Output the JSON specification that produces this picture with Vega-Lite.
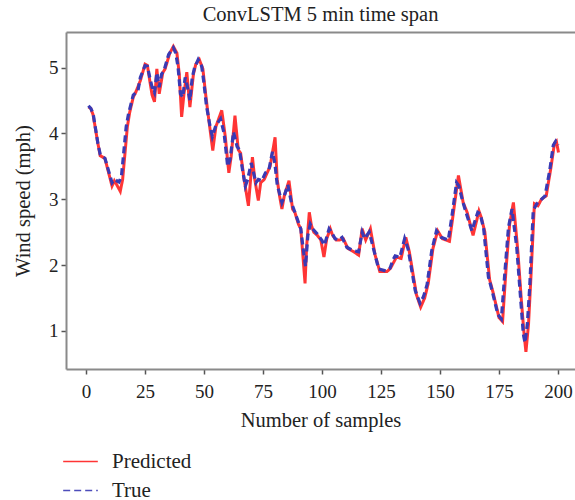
{
  "$schema": "https://vega.github.io/schema/vega-lite/v6.json",
  "width": 509,
  "height": 337,
  "autosize": {"type": "none"},
  "padding": {"left": 66, "top": 32, "right": 0, "bottom": 131},
  "background": "white",
  "config": {
    "font": "Liberation Serif",
    "view": {"stroke": null},
    "axis": {"grid": false, "domainColor": "#8a8a8a", "domainWidth": 2, "tickColor": "#555", "tickWidth": 1.5, "tickSize": 5, "labelFont": "Liberation Serif", "titleFont": "Liberation Serif", "labelFontSize": 19, "titleFontSize": 20.5, "labelColor": "#222", "titleColor": "#222", "titleFontWeight": "normal"},
    "legend": {"labelFont": "Liberation Serif", "labelFontSize": 21, "labelColor": "#222"}
  },
  "title": {"text": "ConvLSTM 5 min time span", "fontSize": 20.5, "fontWeight": "normal", "font": "Liberation Serif", "color": "#222", "anchor": "middle", "offset": 7},
  "datasets": {
    "pts": [
      {"series": "Predicted", "x": 1, "y": 4.40}, {"series": "Predicted", "x": 2, "y": 4.38}, {"series": "Predicted", "x": 3, "y": 4.28}, {"series": "Predicted", "x": 5, "y": 3.85}, {"series": "Predicted", "x": 6, "y": 3.66}, {"series": "Predicted", "x": 8, "y": 3.62}, {"series": "Predicted", "x": 9, "y": 3.48}, {"series": "Predicted", "x": 11, "y": 3.20}, {"series": "Predicted", "x": 12, "y": 3.28}, {"series": "Predicted", "x": 13, "y": 3.22}, {"series": "Predicted", "x": 14.5, "y": 3.12}, {"series": "Predicted", "x": 15.5, "y": 3.30}, {"series": "Predicted", "x": 17.5, "y": 4.10}, {"series": "Predicted", "x": 18.5, "y": 4.32}, {"series": "Predicted", "x": 20, "y": 4.55}, {"series": "Predicted", "x": 21, "y": 4.62}, {"series": "Predicted", "x": 23, "y": 4.80}, {"series": "Predicted", "x": 25, "y": 5.05}, {"series": "Predicted", "x": 26, "y": 5.03}, {"series": "Predicted", "x": 27, "y": 4.80}, {"series": "Predicted", "x": 28, "y": 4.58}, {"series": "Predicted", "x": 29, "y": 4.48}, {"series": "Predicted", "x": 30, "y": 4.98}, {"series": "Predicted", "x": 31, "y": 4.60}, {"series": "Predicted", "x": 32.5, "y": 4.92}, {"series": "Predicted", "x": 33.5, "y": 4.98}, {"series": "Predicted", "x": 35.5, "y": 5.22}, {"series": "Predicted", "x": 37, "y": 5.32}, {"series": "Predicted", "x": 38.5, "y": 5.22}, {"series": "Predicted", "x": 39.5, "y": 4.90}, {"series": "Predicted", "x": 40.5, "y": 4.25}, {"series": "Predicted", "x": 41.5, "y": 4.60}, {"series": "Predicted", "x": 42.7, "y": 4.93}, {"series": "Predicted", "x": 44, "y": 4.40}, {"series": "Predicted", "x": 45.5, "y": 4.90}, {"series": "Predicted", "x": 46.5, "y": 5.05}, {"series": "Predicted", "x": 48, "y": 5.12}, {"series": "Predicted", "x": 49.5, "y": 4.98}, {"series": "Predicted", "x": 50.5, "y": 4.65}, {"series": "Predicted", "x": 51.5, "y": 4.35}, {"series": "Predicted", "x": 53.7, "y": 3.74}, {"series": "Predicted", "x": 55, "y": 4.10}, {"series": "Predicted", "x": 57.5, "y": 4.35}, {"series": "Predicted", "x": 59, "y": 3.95}, {"series": "Predicted", "x": 60.5, "y": 3.40}, {"series": "Predicted", "x": 61.5, "y": 3.65}, {"series": "Predicted", "x": 63.1, "y": 4.27}, {"series": "Predicted", "x": 64.5, "y": 3.75}, {"series": "Predicted", "x": 65.5, "y": 3.70}, {"series": "Predicted", "x": 67, "y": 3.30}, {"series": "Predicted", "x": 68.8, "y": 2.90}, {"series": "Predicted", "x": 70.5, "y": 3.64}, {"series": "Predicted", "x": 71.5, "y": 3.30}, {"series": "Predicted", "x": 73, "y": 2.98}, {"series": "Predicted", "x": 74, "y": 3.25}, {"series": "Predicted", "x": 75.5, "y": 3.30}, {"series": "Predicted", "x": 77, "y": 3.42}, {"series": "Predicted", "x": 78, "y": 3.50}, {"series": "Predicted", "x": 80.1, "y": 3.94}, {"series": "Predicted", "x": 81, "y": 3.30}, {"series": "Predicted", "x": 82, "y": 3.05}, {"series": "Predicted", "x": 83, "y": 2.85}, {"series": "Predicted", "x": 84, "y": 3.05}, {"series": "Predicted", "x": 86, "y": 3.28}, {"series": "Predicted", "x": 87.5, "y": 2.85}, {"series": "Predicted", "x": 88.5, "y": 2.80}, {"series": "Predicted", "x": 90, "y": 2.62}, {"series": "Predicted", "x": 91, "y": 2.55}, {"series": "Predicted", "x": 92.8, "y": 1.72}, {"series": "Predicted", "x": 93.5, "y": 2.30}, {"series": "Predicted", "x": 94.6, "y": 2.80}, {"series": "Predicted", "x": 95.5, "y": 2.60}, {"series": "Predicted", "x": 96.5, "y": 2.50}, {"series": "Predicted", "x": 98, "y": 2.45}, {"series": "Predicted", "x": 99.5, "y": 2.38}, {"series": "Predicted", "x": 100.8, "y": 2.12}, {"series": "Predicted", "x": 102, "y": 2.40}, {"series": "Predicted", "x": 103.5, "y": 2.55}, {"series": "Predicted", "x": 104.5, "y": 2.45}, {"series": "Predicted", "x": 106, "y": 2.38}, {"series": "Predicted", "x": 107.5, "y": 2.38}, {"series": "Predicted", "x": 109, "y": 2.40}, {"series": "Predicted", "x": 111, "y": 2.25}, {"series": "Predicted", "x": 113.5, "y": 2.20}, {"series": "Predicted", "x": 115.5, "y": 2.15}, {"series": "Predicted", "x": 117, "y": 2.55}, {"series": "Predicted", "x": 118.5, "y": 2.38}, {"series": "Predicted", "x": 120.5, "y": 2.55}, {"series": "Predicted", "x": 122.5, "y": 2.15}, {"series": "Predicted", "x": 124.5, "y": 1.90}, {"series": "Predicted", "x": 127.5, "y": 1.90}, {"series": "Predicted", "x": 129, "y": 1.95}, {"series": "Predicted", "x": 130.5, "y": 2.05}, {"series": "Predicted", "x": 131.5, "y": 2.12}, {"series": "Predicted", "x": 133.5, "y": 2.10}, {"series": "Predicted", "x": 135.5, "y": 2.42}, {"series": "Predicted", "x": 137, "y": 2.20}, {"series": "Predicted", "x": 140, "y": 1.55}, {"series": "Predicted", "x": 141.8, "y": 1.36}, {"series": "Predicted", "x": 143.5, "y": 1.50}, {"series": "Predicted", "x": 145, "y": 1.72}, {"series": "Predicted", "x": 147, "y": 2.25}, {"series": "Predicted", "x": 149, "y": 2.52}, {"series": "Predicted", "x": 151, "y": 2.40}, {"series": "Predicted", "x": 154, "y": 2.36}, {"series": "Predicted", "x": 155.5, "y": 2.75}, {"series": "Predicted", "x": 157.8, "y": 3.36}, {"series": "Predicted", "x": 159.8, "y": 2.95}, {"series": "Predicted", "x": 161.5, "y": 2.80}, {"series": "Predicted", "x": 164, "y": 2.45}, {"series": "Predicted", "x": 166.5, "y": 2.82}, {"series": "Predicted", "x": 167.5, "y": 2.72}, {"series": "Predicted", "x": 169, "y": 2.50}, {"series": "Predicted", "x": 171, "y": 1.78}, {"series": "Predicted", "x": 172.5, "y": 1.58}, {"series": "Predicted", "x": 175, "y": 1.20}, {"series": "Predicted", "x": 176.5, "y": 1.14}, {"series": "Predicted", "x": 178, "y": 1.95}, {"series": "Predicted", "x": 179.5, "y": 2.62}, {"series": "Predicted", "x": 181.1, "y": 2.95}, {"series": "Predicted", "x": 183, "y": 2.20}, {"series": "Predicted", "x": 184.5, "y": 1.45}, {"series": "Predicted", "x": 185.5, "y": 1.00}, {"series": "Predicted", "x": 186.4, "y": 0.68}, {"series": "Predicted", "x": 187.5, "y": 1.10}, {"series": "Predicted", "x": 188.5, "y": 1.80}, {"series": "Predicted", "x": 190, "y": 2.93}, {"series": "Predicted", "x": 191.5, "y": 2.90}, {"series": "Predicted", "x": 193, "y": 3.00}, {"series": "Predicted", "x": 195, "y": 3.05}, {"series": "Predicted", "x": 197, "y": 3.48}, {"series": "Predicted", "x": 198.5, "y": 3.85}, {"series": "Predicted", "x": 199.3, "y": 3.88}, {"series": "Predicted", "x": 200.2, "y": 3.71},
      {"series": "True", "x": 1, "y": 4.42}, {"series": "True", "x": 2, "y": 4.38}, {"series": "True", "x": 3, "y": 4.30}, {"series": "True", "x": 5, "y": 3.85}, {"series": "True", "x": 6, "y": 3.68}, {"series": "True", "x": 8, "y": 3.62}, {"series": "True", "x": 9, "y": 3.50}, {"series": "True", "x": 11, "y": 3.25}, {"series": "True", "x": 12, "y": 3.30}, {"series": "True", "x": 13, "y": 3.28}, {"series": "True", "x": 14, "y": 3.26}, {"series": "True", "x": 15, "y": 3.35}, {"series": "True", "x": 17, "y": 4.10}, {"series": "True", "x": 18, "y": 4.30}, {"series": "True", "x": 20, "y": 4.58}, {"series": "True", "x": 22, "y": 4.65}, {"series": "True", "x": 23, "y": 4.85}, {"series": "True", "x": 25, "y": 5.03}, {"series": "True", "x": 26, "y": 5.02}, {"series": "True", "x": 27, "y": 4.85}, {"series": "True", "x": 28, "y": 4.70}, {"series": "True", "x": 29, "y": 4.62}, {"series": "True", "x": 30, "y": 4.92}, {"series": "True", "x": 31, "y": 4.70}, {"series": "True", "x": 32, "y": 4.90}, {"series": "True", "x": 33, "y": 4.95}, {"series": "True", "x": 35, "y": 5.20}, {"series": "True", "x": 37, "y": 5.30}, {"series": "True", "x": 38, "y": 5.22}, {"series": "True", "x": 39, "y": 5.00}, {"series": "True", "x": 40, "y": 4.60}, {"series": "True", "x": 41, "y": 4.55}, {"series": "True", "x": 42, "y": 4.85}, {"series": "True", "x": 43, "y": 4.70}, {"series": "True", "x": 44, "y": 4.50}, {"series": "True", "x": 45, "y": 4.85}, {"series": "True", "x": 46, "y": 5.00}, {"series": "True", "x": 47.5, "y": 5.12}, {"series": "True", "x": 49, "y": 5.02}, {"series": "True", "x": 50, "y": 4.75}, {"series": "True", "x": 51, "y": 4.42}, {"series": "True", "x": 52.5, "y": 4.12}, {"series": "True", "x": 53.5, "y": 3.95}, {"series": "True", "x": 55, "y": 4.12}, {"series": "True", "x": 57, "y": 4.22}, {"series": "True", "x": 58.5, "y": 4.00}, {"series": "True", "x": 60, "y": 3.50}, {"series": "True", "x": 61, "y": 3.60}, {"series": "True", "x": 62.5, "y": 4.02}, {"series": "True", "x": 64, "y": 3.80}, {"series": "True", "x": 65, "y": 3.75}, {"series": "True", "x": 66.5, "y": 3.40}, {"series": "True", "x": 67.5, "y": 3.20}, {"series": "True", "x": 68.5, "y": 3.30}, {"series": "True", "x": 70, "y": 3.55}, {"series": "True", "x": 71, "y": 3.40}, {"series": "True", "x": 72, "y": 3.25}, {"series": "True", "x": 73, "y": 3.30}, {"series": "True", "x": 74.5, "y": 3.28}, {"series": "True", "x": 76, "y": 3.40}, {"series": "True", "x": 77.5, "y": 3.45}, {"series": "True", "x": 79, "y": 3.72}, {"series": "True", "x": 80, "y": 3.55}, {"series": "True", "x": 81, "y": 3.22}, {"series": "True", "x": 83, "y": 2.95}, {"series": "True", "x": 84, "y": 3.05}, {"series": "True", "x": 85.5, "y": 3.22}, {"series": "True", "x": 87, "y": 2.95}, {"series": "True", "x": 88, "y": 2.85}, {"series": "True", "x": 90, "y": 2.65}, {"series": "True", "x": 91, "y": 2.55}, {"series": "True", "x": 92, "y": 2.25}, {"series": "True", "x": 93, "y": 1.98}, {"series": "True", "x": 94, "y": 2.45}, {"series": "True", "x": 95, "y": 2.62}, {"series": "True", "x": 96, "y": 2.55}, {"series": "True", "x": 98, "y": 2.47}, {"series": "True", "x": 100, "y": 2.37}, {"series": "True", "x": 101, "y": 2.30}, {"series": "True", "x": 103, "y": 2.55}, {"series": "True", "x": 104, "y": 2.50}, {"series": "True", "x": 105.5, "y": 2.40}, {"series": "True", "x": 107, "y": 2.38}, {"series": "True", "x": 108.5, "y": 2.42}, {"series": "True", "x": 110.5, "y": 2.27}, {"series": "True", "x": 113, "y": 2.22}, {"series": "True", "x": 115.5, "y": 2.20}, {"series": "True", "x": 117, "y": 2.50}, {"series": "True", "x": 118, "y": 2.40}, {"series": "True", "x": 120, "y": 2.50}, {"series": "True", "x": 122, "y": 2.22}, {"series": "True", "x": 124, "y": 1.94}, {"series": "True", "x": 127, "y": 1.91}, {"series": "True", "x": 128.8, "y": 1.95}, {"series": "True", "x": 130, "y": 2.07}, {"series": "True", "x": 131, "y": 2.14}, {"series": "True", "x": 133, "y": 2.12}, {"series": "True", "x": 135, "y": 2.40}, {"series": "True", "x": 136.5, "y": 2.24}, {"series": "True", "x": 139.5, "y": 1.61}, {"series": "True", "x": 141.5, "y": 1.42}, {"series": "True", "x": 143, "y": 1.52}, {"series": "True", "x": 144.5, "y": 1.70}, {"series": "True", "x": 146.5, "y": 2.22}, {"series": "True", "x": 148.5, "y": 2.52}, {"series": "True", "x": 150.5, "y": 2.42}, {"series": "True", "x": 153.5, "y": 2.38}, {"series": "True", "x": 155, "y": 2.73}, {"series": "True", "x": 157, "y": 3.25}, {"series": "True", "x": 158, "y": 3.20}, {"series": "True", "x": 159.5, "y": 2.98}, {"series": "True", "x": 161, "y": 2.80}, {"series": "True", "x": 163.5, "y": 2.52}, {"series": "True", "x": 166, "y": 2.80}, {"series": "True", "x": 167, "y": 2.78}, {"series": "True", "x": 168.5, "y": 2.55}, {"series": "True", "x": 170.5, "y": 1.82}, {"series": "True", "x": 172, "y": 1.62}, {"series": "True", "x": 174.5, "y": 1.25}, {"series": "True", "x": 176, "y": 1.18}, {"series": "True", "x": 177.5, "y": 1.90}, {"series": "True", "x": 179, "y": 2.57}, {"series": "True", "x": 180.5, "y": 2.85}, {"series": "True", "x": 182.5, "y": 2.27}, {"series": "True", "x": 184, "y": 1.56}, {"series": "True", "x": 185.3, "y": 0.95}, {"series": "True", "x": 186, "y": 0.82}, {"series": "True", "x": 187, "y": 1.10}, {"series": "True", "x": 188, "y": 1.66}, {"series": "True", "x": 189.5, "y": 2.83}, {"series": "True", "x": 191, "y": 2.93}, {"series": "True", "x": 192.5, "y": 2.98}, {"series": "True", "x": 194.5, "y": 3.05}, {"series": "True", "x": 196.5, "y": 3.44}, {"series": "True", "x": 198, "y": 3.82}, {"series": "True", "x": 199, "y": 3.88}, {"series": "True", "x": 200, "y": 3.82}
    ]
  },
  "data": {"name": "pts"},
  "encoding": {
    "y": {"field": "y", "type": "quantitative", "title": "Wind speed (mph)", "scale": {"domain": [0.42, 5.54], "nice": false, "zero": false}, "axis": {"values": [1, 2, 3, 4, 5], "labelPadding": 3, "titlePadding": 15}},
    "color": {"field": "series", "type": "nominal", "scale": {"domain": ["Predicted", "True"], "range": ["#ff1f1f", "#3a3ab4"]}, "legend": {"title": null, "orient": "none", "legendX": -4, "legendY": 411, "symbolType": "stroke", "symbolSize": 1200, "symbolStrokeWidth": 1.5, "labelOffset": 13, "rowPadding": -8}},
    "strokeDash": {"field": "series", "type": "nominal", "scale": {"domain": ["Predicted", "True"], "range": [[1, 0], [7, 4]]}, "legend": {"title": null, "orient": "none", "legendX": -4, "legendY": 411, "symbolType": "stroke", "symbolSize": 1200, "symbolStrokeWidth": 1.5, "labelOffset": 13, "rowPadding": -8}}
  },
  "layer": [
    {"transform": [{"filter": "datum.series === 'Predicted'"}], "mark": {"type": "line", "strokeWidth": 3, "opacity": 0.9},
     "encoding": {"x": {"field": "x", "type": "quantitative", "title": "Number of samples", "scale": {"domain": [-8.5, 207.2], "nice": false, "zero": false}, "axis": {"values": [0, 25, 50, 75, 100, 125, 150, 175, 200], "labelPadding": 8, "titlePadding": 9}}}},
    {"transform": [{"filter": "datum.series === 'True'"}], "mark": {"type": "line", "strokeWidth": 3.2},
     "encoding": {"x": {"field": "x", "type": "quantitative", "axis": {"orient": "top", "labels": false, "ticks": false, "title": null}}}}
  ],
  "resolve": {"axis": {"x": "independent"}}
}
